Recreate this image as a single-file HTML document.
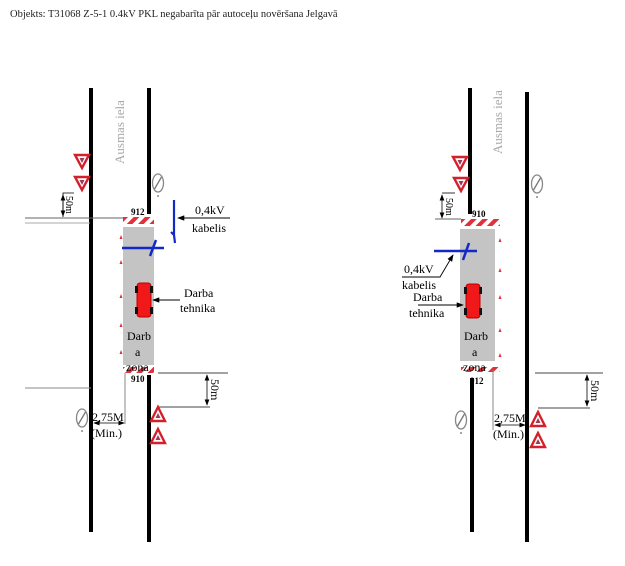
<!DOCTYPE html>
<html><head><meta charset="utf-8"><style>
html,body{margin:0;padding:0;background:#fff;}
svg{display:block;}
text{font-family:"Liberation Serif",serif;}
</style></head><body>
<svg width="625" height="566" viewBox="0 0 625 566" xmlns="http://www.w3.org/2000/svg">
<defs>
<pattern id="hatch" patternUnits="userSpaceOnUse" width="8" height="8" patternTransform="rotate(45)">
<rect width="8" height="8" fill="#fff"/><rect width="4" height="8" fill="#e0303a"/>
</pattern>
<marker id="ar" markerWidth="8" markerHeight="6" refX="7" refY="3" orient="auto"><path d="M0,0 L8,3 L0,6 Z" fill="#000"/></marker>
<marker id="ar2" markerWidth="8" markerHeight="6" refX="1" refY="3" orient="auto"><path d="M8,0 L0,3 L8,6 Z" fill="#000"/></marker>
<g id="invtri"><path d="M-7,-6 L7,-6 L0,7 Z" fill="#fff" stroke="#d4202a" stroke-width="2.4"/><path d="M-2.5,-3 L2.5,-3 L0,2Z" fill="#9a3a5a"/></g>
<g id="tri"><path d="M-7,7 L7,7 L0,-7 Z" fill="#fff" stroke="#d4202a" stroke-width="2.4"/><path d="M-2.5,4 L2.5,4 L0,-1Z" fill="#9a3a5a"/></g>
<g id="nopass"><ellipse cx="0" cy="0" rx="5.5" ry="9" fill="#fff" stroke="#888" stroke-width="1.3"/><line x1="-3.5" y1="6" x2="3.5" y2="-6" stroke="#777" stroke-width="1.3"/><circle cx="0" cy="13" r="1" fill="#888"/></g>
<g id="cone"><path d="M-1.5,2 L1.5,2 L0,-2Z" fill="#e0303a"/></g>
<g id="car"><rect x="-7" y="-17" width="14" height="34" rx="3" fill="#f01818" stroke="#b00" /><rect x="-9" y="-14" width="3" height="7" fill="#111"/><rect x="6" y="-14" width="3" height="7" fill="#111"/><rect x="-9" y="7" width="3" height="7" fill="#111"/><rect x="6" y="7" width="3" height="7" fill="#111"/></g>
</defs>

<text x="10" y="17" font-size="10.5" fill="#222">Objekts: T31068 Z-5-1 0.4kV PKL negabarīta pār autoceļu novēršana Jelgavā</text>

<!-- LEFT DIAGRAM -->
<line x1="91" y1="88" x2="91" y2="532" stroke="#000" stroke-width="4"/>
<line x1="149" y1="88" x2="149" y2="214" stroke="#000" stroke-width="4"/>
<line x1="149" y1="375" x2="149" y2="542" stroke="#000" stroke-width="4"/>
<text transform="translate(124,164) rotate(-90)" font-size="13" fill="#aaa">Ausmas iela</text>
<rect x="123" y="227" width="31" height="138" fill="#c4c4c4"/>
<rect x="123" y="217" width="31" height="7" fill="url(#hatch)"/>
<rect x="123" y="367" width="31" height="6" fill="url(#hatch)"/>
<text x="131" y="215" font-size="9" font-weight="bold">912</text>
<text x="131" y="382" font-size="9" font-weight="bold">910</text>
<use href="#invtri" x="82" y="161"/>
<use href="#invtri" x="82" y="183"/>
<use href="#nopass" x="158" y="183"/>
<polyline points="74,193 63,193 63,217" fill="none" stroke="#000" stroke-width="0.8"/>
<line x1="63" y1="195" x2="63" y2="216" stroke="#000" stroke-width="0.8" marker-start="url(#ar2)" marker-end="url(#ar)"/>
<text transform="translate(66,196) rotate(90)" font-size="10">50m</text>
<line x1="25" y1="218" x2="123" y2="218" stroke="#666" stroke-width="1"/>
<line x1="25" y1="223" x2="90" y2="223" stroke="#aaa" stroke-width="1"/>
<path d="M174,200 L174,235 L171,232 M174,235 L175,243" fill="none" stroke="#1428c8" stroke-width="2.2"/>
<line x1="122" y1="248" x2="164" y2="248" stroke="#1428c8" stroke-width="2.5"/>
<line x1="150" y1="256" x2="156" y2="240" stroke="#1428c8" stroke-width="2.5"/>
<line x1="230" y1="218" x2="178" y2="218" stroke="#000" stroke-width="0.9" marker-end="url(#ar)"/>
<text x="195" y="214" font-size="12">0,4kV</text>
<text x="192" y="232" font-size="12">kabelis</text>
<use href="#car" x="144" y="300"/>
<line x1="180" y1="300" x2="153" y2="300" stroke="#000" stroke-width="0.9" marker-end="url(#ar)"/>
<text x="184" y="297" font-size="12">Darba</text>
<text x="180" y="312" font-size="12">tehnika</text>
<text x="127" y="340" font-size="12">Darb</text>
<text x="135" y="356" font-size="12">a</text>
<text x="126" y="371" font-size="12">zona</text>
<use href="#cone" x="121" y="237"/><use href="#cone" x="121" y="262"/><use href="#cone" x="121" y="296"/><use href="#cone" x="121" y="325"/><use href="#cone" x="121" y="352"/>
<line x1="158" y1="373" x2="228" y2="373" stroke="#444" stroke-width="0.9"/>
<line x1="158" y1="407" x2="210" y2="407" stroke="#444" stroke-width="0.9"/>
<line x1="207" y1="375" x2="207" y2="405" stroke="#000" stroke-width="0.8" marker-start="url(#ar2)" marker-end="url(#ar)"/>
<text transform="translate(211,379) rotate(90)" font-size="12">50m</text>
<line x1="25" y1="388" x2="91" y2="388" stroke="#888" stroke-width="1"/>
<line x1="125" y1="373" x2="125" y2="424" stroke="#888" stroke-width="1"/>
<line x1="94" y1="423" x2="124" y2="423" stroke="#000" stroke-width="0.8" marker-start="url(#ar2)" marker-end="url(#ar)"/>
<text x="92" y="421" font-size="12">2,75M</text>
<text x="91" y="437" font-size="12">(Min.)</text>
<use href="#nopass" x="82" y="418"/>
<use href="#tri" x="158" y="414"/>
<use href="#tri" x="158" y="436"/>

<!-- RIGHT DIAGRAM -->
<line x1="470" y1="88" x2="470" y2="214" stroke="#000" stroke-width="4"/>
<line x1="472" y1="378" x2="472" y2="532" stroke="#000" stroke-width="4"/>
<line x1="527" y1="92" x2="527" y2="542" stroke="#000" stroke-width="4"/>
<text transform="translate(502,154) rotate(-90)" font-size="13" fill="#aaa">Ausmas iela</text>
<rect x="460" y="229" width="35" height="132" fill="#c4c4c4"/>
<rect x="461" y="219" width="39" height="7" fill="url(#hatch)"/>
<rect x="461" y="367" width="39" height="5" fill="url(#hatch)"/>
<text x="472" y="217" font-size="9" font-weight="bold">910</text>
<text x="470" y="384" font-size="9" font-weight="bold">912</text>
<use href="#invtri" x="460" y="163"/>
<use href="#invtri" x="461" y="184"/>
<use href="#nopass" x="537" y="184"/>
<line x1="442" y1="193" x2="455" y2="193" stroke="#000" stroke-width="0.8"/>
<line x1="442" y1="195" x2="442" y2="218" stroke="#000" stroke-width="0.8" marker-start="url(#ar2)" marker-end="url(#ar)"/>
<text transform="translate(446,198) rotate(90)" font-size="10">50m</text>
<line x1="435" y1="219" x2="461" y2="219" stroke="#666" stroke-width="1"/>
<line x1="434" y1="251" x2="477" y2="251" stroke="#1428c8" stroke-width="2.5"/>
<line x1="463" y1="260" x2="469" y2="243" stroke="#1428c8" stroke-width="2.5"/>
<polyline points="402,277 440,277 453,255" fill="none" stroke="#000" stroke-width="0.9" marker-end="url(#ar)"/>
<text x="404" y="273" font-size="12">0,4kV</text>
<text x="402" y="289" font-size="12">kabelis</text>
<text x="413" y="301" font-size="12">Darba</text>
<text x="409" y="317" font-size="12">tehnika</text>
<line x1="418" y1="305" x2="463" y2="305" stroke="#000" stroke-width="0.9" marker-end="url(#ar)"/>
<use href="#car" x="473" y="301"/>
<text x="464" y="340" font-size="12">Darb</text>
<text x="472" y="356" font-size="12">a</text>
<text x="463" y="371" font-size="12">zona</text>
<use href="#cone" x="500" y="240"/><use href="#cone" x="500" y="270"/><use href="#cone" x="500" y="297"/><use href="#cone" x="500" y="330"/><use href="#cone" x="500" y="355"/>
<line x1="535" y1="373" x2="603" y2="373" stroke="#444" stroke-width="0.9"/>
<line x1="538" y1="408" x2="590" y2="408" stroke="#444" stroke-width="0.9"/>
<line x1="587" y1="375" x2="587" y2="406" stroke="#000" stroke-width="0.8" marker-start="url(#ar2)" marker-end="url(#ar)"/>
<text transform="translate(591,380) rotate(90)" font-size="12">50m</text>
<line x1="493" y1="370" x2="493" y2="430" stroke="#888" stroke-width="1"/>
<line x1="495" y1="425" x2="525" y2="425" stroke="#000" stroke-width="0.8" marker-start="url(#ar2)" marker-end="url(#ar)"/>
<text x="494" y="422" font-size="12">2,75M</text>
<text x="493" y="438" font-size="12">(Min.)</text>
<use href="#nopass" x="461" y="420"/>
<use href="#tri" x="538" y="419"/>
<use href="#tri" x="538" y="440"/>
</svg>
</body></html>
